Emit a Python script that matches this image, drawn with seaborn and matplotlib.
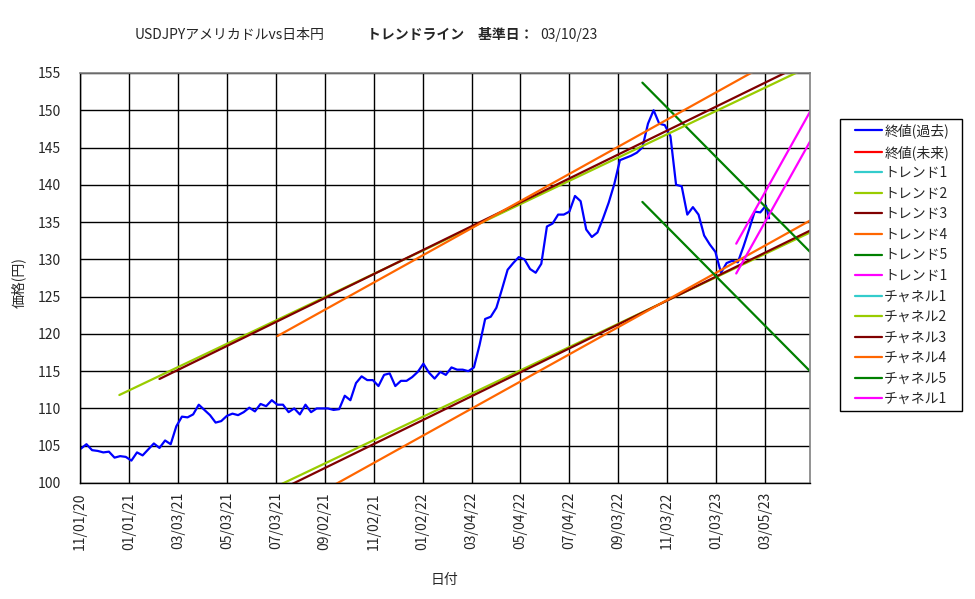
import pandas as pd
import seaborn as sns
import matplotlib.pyplot as plt
import matplotlib.dates as mdates
from matplotlib.lines import Line2D
from matplotlib.patches import Rectangle

# weekly closes (past), starting 2020-11-02
close_values = [
    104.6, 105.2, 104.4, 104.3, 104.1, 104.2, 103.4, 103.6, 103.5, 103.0,
    104.1, 103.7, 104.5, 105.3, 104.7, 105.7, 105.2, 107.6, 108.9, 108.8,
    109.2, 110.5, 109.8, 109.1, 108.1, 108.3, 109.0, 109.3, 109.1, 109.5,
    110.1, 109.6, 110.6, 110.3, 111.1, 110.5, 110.5, 109.5, 110.0, 109.2,
    110.5, 109.5, 110.0, 110.0, 110.0, 109.8, 109.9, 111.7, 111.1, 113.4,
    114.3, 113.8, 113.8, 113.0, 114.5, 114.7, 113.0, 113.7, 113.7, 114.2,
    114.9, 116.0, 114.8, 114.0, 114.9, 114.5, 115.5, 115.2, 115.2, 115.0,
    115.5, 118.5, 122.0, 122.3, 123.5, 126.0, 128.6, 129.5, 130.3, 130.0,
    128.7, 128.2, 129.4, 134.4, 134.8, 136.0, 136.0, 136.4, 138.5, 137.8,
    134.0, 133.0, 133.6, 135.5, 137.6, 140.1, 143.3, 143.6, 143.9, 144.3,
    145.0, 148.2, 150.0, 148.2, 148.0, 146.5, 140.0, 139.8, 136.0, 137.0,
    136.0, 133.2, 132.0, 131.0, 128.2, 129.5, 129.8, 129.6, 131.7, 134.0,
    136.4, 136.3, 137.2,
]
last_date = '2023-03-10'
last_value = 135.5

# trend lines / channel lines: start date, value at start, value at end date
line_end = '2023-04-30'
line_start = ['2020-12-20', '2021-02-08', '2021-07-05', '2022-10-03', '2023-01-28']
trend_v0 = [89.5, 91.15, 95.5, 153.7, 128.1]
trend_v1 = [133.6, 133.85, 135.2, 131.0, 145.8]
channel_v0 = [111.8, 113.95, 119.7, 137.7, 132.1]
channel_v1 = [155.9, 156.65, 159.4, 115.0, 149.8]
line_colors = ['#99CC00', '#800000', '#FF6600', '#008000', '#FF00FF']
trend_names = ['トレンド2', 'トレンド3', 'トレンド4', 'トレンド5', 'トレンド1']
channel_names = ['チャネル2', 'チャネル3', 'チャネル4', 'チャネル5', 'チャネル1']

sns.set_theme(style='white')
plt.rcParams['font.family'] = ['Noto Sans CJK JP', 'DejaVu Sans']

fig = plt.figure(figsize=(9.75, 5.99), dpi=100)
ax = fig.add_axes([0.0821, 0.1937, 0.7487, 0.6845])

dates = list(pd.date_range('2020-11-02', periods=len(close_values), freq='7D')) + [pd.Timestamp(last_date)]
closes = pd.DataFrame({'date': dates, 'close': close_values + [last_value]})
sns.lineplot(data=closes, x='date', y='close', ax=ax, color='#0000FF', linewidth=1.6)

for i in range(len(line_start)):
    seg = pd.DataFrame({'date': pd.to_datetime([line_start[i], line_end]),
                        'v': [trend_v0[i], trend_v1[i]]})
    sns.lineplot(data=seg, x='date', y='v', ax=ax, color=line_colors[i], linewidth=1.6)
for i in range(len(line_start)):
    seg = pd.DataFrame({'date': pd.to_datetime([line_start[i], line_end]),
                        'v': [channel_v0[i], channel_v1[i]]})
    sns.lineplot(data=seg, x='date', y='v', ax=ax, color=line_colors[i], linewidth=1.6)

ax.set_xlim(pd.Timestamp('2020-11-01'), pd.Timestamp(line_end))
ax.set_ylim(100, 155)
ax.set_yticks(range(100, 156, 5))
ax.set_xticks(pd.date_range('2020-11-01', periods=15, freq='61D'))
ax.xaxis.set_major_formatter(mdates.DateFormatter('%m/%d/%y'))
ax.tick_params(axis='x', labelrotation=90, labelsize=10, length=3, color='black', direction='out')
ax.tick_params(axis='y', labelsize=10, length=3, pad=11, color='black', direction='out')
ax.grid(True, color='black', linewidth=1)
ax.set_axisbelow(True)
ax.set_xlabel('')
ax.set_ylabel('')
for s in ['left', 'bottom']:
    ax.spines[s].set_color('black')
    ax.spines[s].set_linewidth(1)
for s in ['top', 'right']:
    ax.spines[s].set_color('#808080')
    ax.spines[s].set_linewidth(1.2)

fig.text(0.456, 0.032, '日付', ha='center', va='center', fontsize=10)
fig.text(0.0185, 0.529, '価格(円)', ha='center', va='center', rotation=90, fontsize=10)

ty = 0.9416
fig.text(135 / 975, ty, 'USDJPYアメリカドルvs日本円', ha='left', va='center', fontsize=10)
fig.text(367 / 975, ty, 'トレンドライン\u3000基準日：', ha='left', va='center', fontsize=10, fontweight='bold')
fig.text(540 / 975, ty, '03/10/23', ha='left', va='center', fontsize=10)

# legend in the sheet's order, unused series included
legend_items = [('終値(過去)', '#0000FF'), ('終値(未来)', '#FF0000'), ('トレンド1', '#33CCCC')]
legend_items += list(zip(trend_names, line_colors))
legend_items += [('チャネル1', '#33CCCC')] + list(zip(channel_names, line_colors))
handles = [Line2D([], [], color=c, linewidth=1.6) for _, c in legend_items]
labels = [n for n, _ in legend_items]
fig.legend(handles, labels, loc='upper left', bbox_to_anchor=(855 / 975, 1 - 123.5 / 599),
           fontsize=10, frameon=False, borderpad=0, borderaxespad=0,
           handlelength=1.95, handletextpad=0.15, labelspacing=0.47)
fig.patches.append(Rectangle((839.5 / 975, 1 - 411 / 599), 122 / 975, 292 / 599,
                             transform=fig.transFigure, fill=False, edgecolor='black', linewidth=1))

fig.savefig('out.png', dpi=100)
